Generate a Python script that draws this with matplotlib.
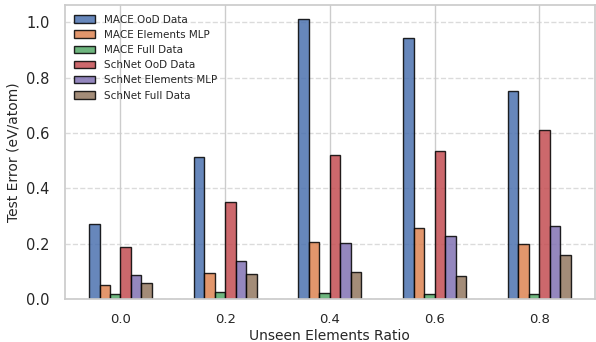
import matplotlib
matplotlib.use("Agg")
import matplotlib.pyplot as plt
import seaborn as sns
import numpy as np

ratios = ["0.0", "0.2", "0.4", "0.6", "0.8"]
series_names = ["MACE OoD Data", "MACE Elements MLP", "MACE Full Data",
                "SchNet OoD Data", "SchNet Elements MLP", "SchNet Full Data"]

mace_ood = [0.271, 0.515, 1.012, 0.943, 0.751]
mace_elem = [0.052, 0.092, 0.207, 0.258, 0.199]
mace_full = [0.017, 0.024, 0.020, 0.019, 0.019]
schnet_ood = [0.188, 0.350, 0.521, 0.536, 0.612]
schnet_elem = [0.086, 0.137, 0.204, 0.228, 0.263]
schnet_full = [0.059, 0.089, 0.099, 0.083, 0.159]

sns.set_theme(style="whitegrid")
colors = sns.color_palette("deep", 6)

fig, ax = plt.subplots(figsize=(5.96, 3.42), dpi=100)
fig.subplots_adjust(left=0.109, right=0.998, top=0.985, bottom=0.126)

x = np.arange(len(ratios))
width = 0.1
all_series = [mace_ood, mace_elem, mace_full, schnet_ood, schnet_elem, schnet_full]
for i, (vals, name) in enumerate(zip(all_series, series_names)):
    ax.bar(x + (i - 2.5) * width, vals, width, label=name, color=colors[i],
           alpha=0.85, edgecolor="black", linewidth=1.0)

ax.set_xticks(x)
ax.set_xticklabels(ratios)
ax.tick_params(axis="x", labelsize=9.5, pad=4)
ax.tick_params(axis="y", labelsize=10.5, pad=5)
ax.set_xlabel("Unseen Elements Ratio", fontsize=10, labelpad=2)
ax.set_ylabel("Test Error (eV/atom)", fontsize=10, labelpad=4)
ax.grid(axis="y", linestyle="--", alpha=0.7)
ax.set_axisbelow(True)
ax.legend(loc="upper left", fontsize=7.5, frameon=False)

plt.savefig("out.png", dpi=100)
plt.close()
